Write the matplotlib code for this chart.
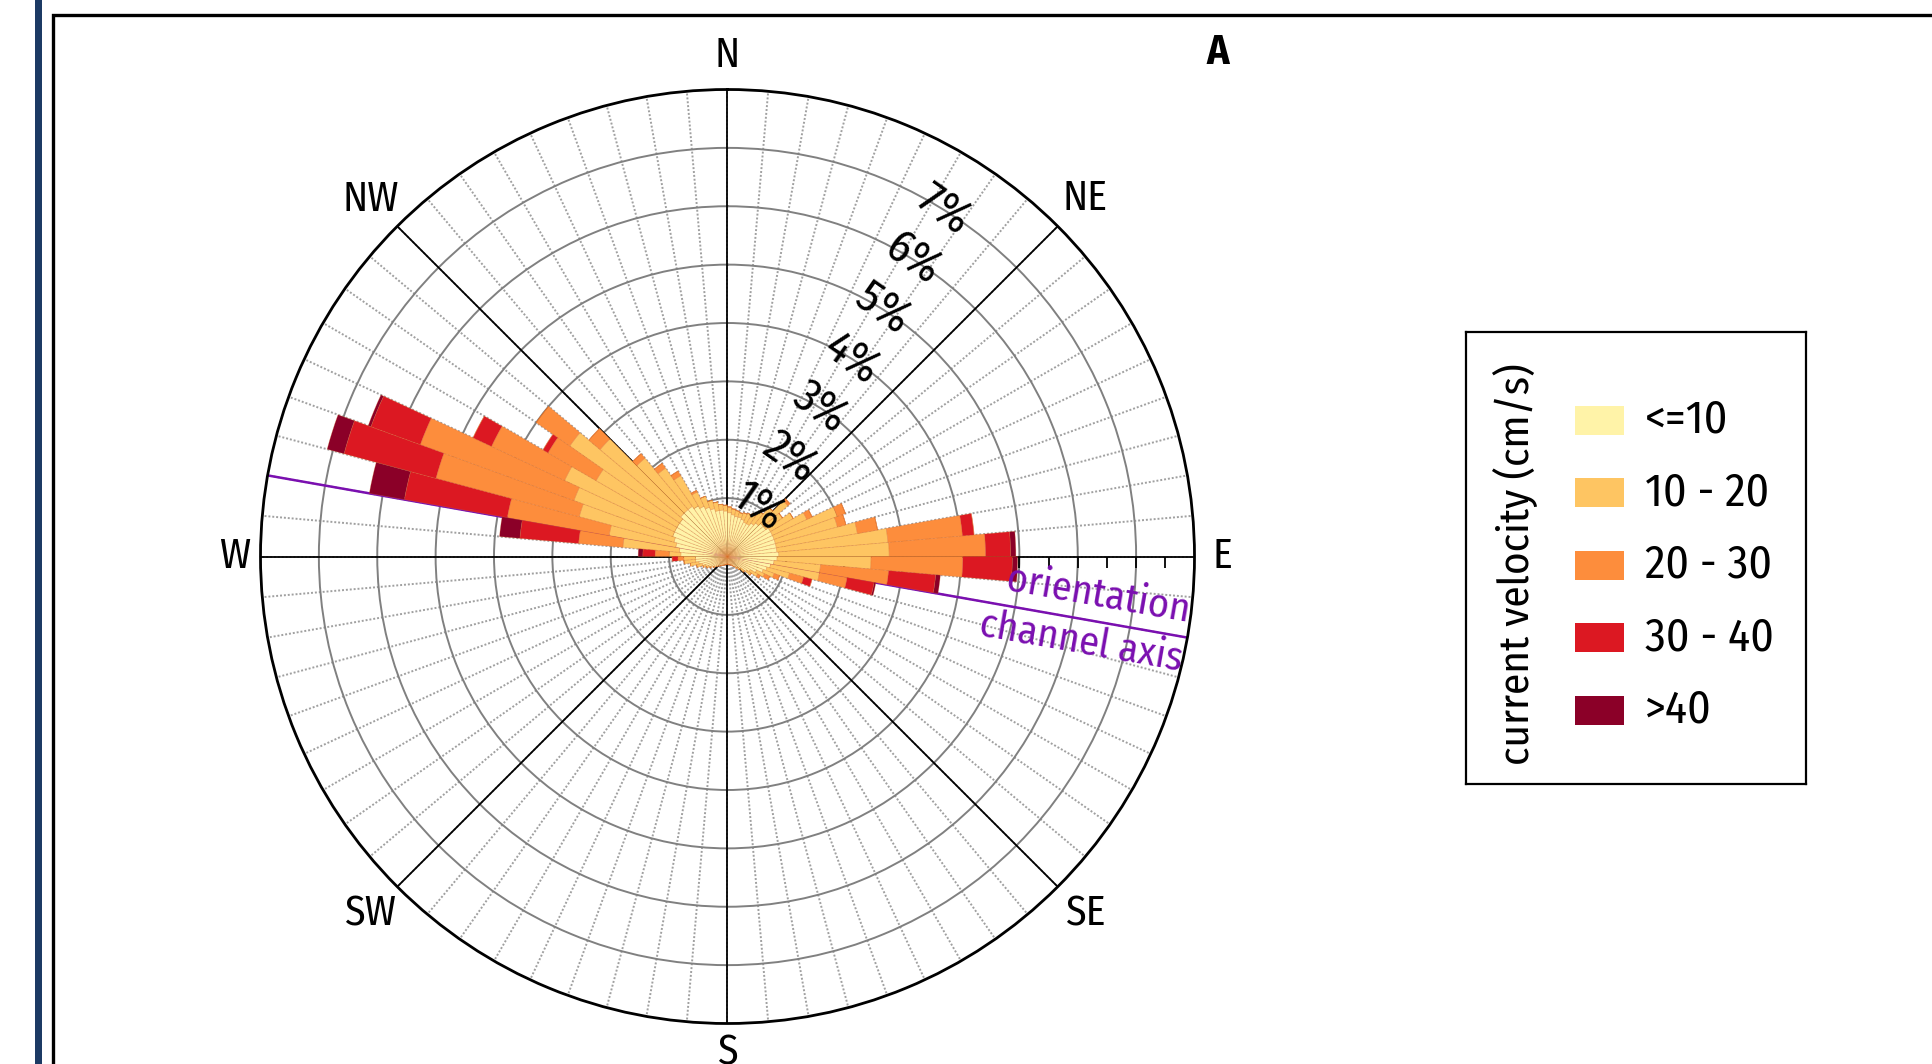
import numpy as np
import matplotlib
matplotlib.use('Agg')
import matplotlib.pyplot as plt
from matplotlib import font_manager
from matplotlib.patches import Rectangle

# ── Font: prefer a condensed sans if one is installed ───────────────────────
_entries = font_manager.fontManager.ttflist
_names = {f.name for f in _entries}
FONT, STRETCH = 'DejaVu Sans', 'normal'
for cand in ['Fira Sans Condensed', 'Roboto Condensed', 'Open Sans Condensed',
             'Liberation Sans Narrow']:
    if cand in _names:
        FONT = cand
        break
else:
    if any(f.name == 'DejaVu Sans' and f.stretch == 'condensed' for f in _entries):
        STRETCH = 'condensed'
plt.rcParams['font.family'] = [FONT, 'DejaVu Sans']
plt.rcParams['font.stretch'] = STRETCH

# ── Data: share of records (%) per 5° direction sector and velocity class ───
SECTOR_START = np.arange(0, 360, 5)          # compass degrees, bin = [a, a+5)
CLASS_LABELS = ['<=10', '10 - 20', '20 - 30', '30 - 40', '>40']
CLASS_COLORS = ['#fff3a8', '#fec562', '#fd8d3c', '#dc1822', '#8b0028']

v_le10 = [0.75, 0.72, 0.70, 0.70, 0.68, 0.65, 0.65, 0.70, 0.75, 0.80,
          0.80, 0.85, 0.85, 0.85, 0.85, 0.85, 0.85, 0.88, 0.85, 0.80,
          0.75, 0.70, 0.65, 0.55, 0.45, 0.40, 0.30, 0.25, 0.22, 0.20,
          0.18, 0.16, 0.15, 0.14, 0.14, 0.13, 0.13, 0.14, 0.14, 0.15,
          0.16, 0.17, 0.18, 0.20, 0.22, 0.25, 0.28, 0.32, 0.36, 0.40,
          0.45, 0.50, 0.55, 0.55, 0.80, 0.83, 0.90, 0.95, 1.00, 1.00,
          1.00, 1.00, 1.05, 1.05, 1.05, 1.00, 0.95, 0.90, 0.85, 0.80,
          0.80, 0.78]
v_10_20 = [0.10, 0.10, 0.10, 0.08, 0.12, 0.17, 0.20, 0.25, 0.35, 0.55,
           0.35, 0.45, 0.65, 1.15, 1.10, 1.41, 1.91, 1.89, 1.61, 0.80,
           0.85, 0.40, 0.20, 0.15, 0.15, 0.10, 0.08, 0.05, 0.03, 0.00,
           0.00, 0.00, 0.00, 0.00, 0.00, 0.00, 0.00, 0.00, 0.00, 0.00,
           0.00, 0.00, 0.00, 0.00, 0.00, 0.00, 0.02, 0.03, 0.04, 0.05,
           0.10, 0.15, 0.20, 0.20, 0.20, 0.97, 1.16, 1.68, 1.80, 2.08,
           1.60, 2.30, 1.80, 1.15, 0.80, 0.60, 0.27, 0.20, 0.15, 0.15,
           0.10, 0.10]
v_20_30 = [0.00, 0.00, 0.00, 0.00, 0.00, 0.00, 0.00, 0.00, 0.00, 0.05,
           0.00, 0.00, 0.10, 0.15, 0.15, 0.35, 1.28, 1.65, 1.57, 1.17,
           0.48, 0.25, 0.10, 0.10, 0.05, 0.00, 0.00, 0.00, 0.00, 0.00,
           0.00, 0.00, 0.00, 0.00, 0.00, 0.00, 0.00, 0.00, 0.00, 0.00,
           0.00, 0.00, 0.00, 0.00, 0.00, 0.00, 0.00, 0.00, 0.00, 0.00,
           0.00, 0.00, 0.00, 0.10, 0.24, 0.76, 1.77, 2.54, 2.80, 1.38,
           0.95, 0.70, 0.25, 0.10, 0.10, 0.09, 0.03, 0.00, 0.00, 0.00,
           0.00, 0.00]
v_30_40 = [0.00] * 16 + [0.20, 0.43, 0.85, 0.81, 0.47, 0.15] + [0.00] * 31 + \
          [0.10, 0.21, 1.01, 1.79, 1.63, 0.90, 0.35, 0.10] + [0.00] * 11
v_gt40 = [0.00] * 17 + [0.09, 0.09, 0.08, 0.03] + [0.00] * 33 + \
         [0.08, 0.35, 0.61, 0.30, 0.05] + [0.00] * 13
CLASS_VALUES = [v_le10, v_10_20, v_20_30, v_30_40, v_gt40]

R_MAX = 8
R_TICKS = [1, 2, 3, 4, 5, 6, 7]
COMPASS = ['N', 'NE', 'E', 'SE', 'S', 'SW', 'W', 'NW']
COMPASS_R = [8.58, 8.66, 8.47, 8.66, 8.50, 8.65, 8.45, 8.64]
CHANNEL_AXIS_DEG = 100

# ── Figure ──────────────────────────────────────────────────────────────────
W, H = 1933, 1064
fig = plt.figure(figsize=(W / 100, H / 100), dpi=100)
fig.patch.set_facecolor('white')

# panel decoration: navy rule on the left and black frame
fig.add_artist(Rectangle((35 / W, 0), 7 / W, 1, transform=fig.transFigure,
                         color='#1c3a64', lw=0))
fig.add_artist(Rectangle((53.5 / W, -0.1), 1.2, 1.1 - 14.5 / H,
                         transform=fig.transFigure, fill=False,
                         ec='black', lw=2.4))

ax = fig.add_axes([260.5 / W, 1 - 1023.5 / H, 934 / W, 934 / H],
                  projection='polar')
ax.set_theta_zero_location('N')
ax.set_theta_direction(-1)
ax.set_ylim(0, R_MAX)
ax.set_axisbelow(True)

ax.set_xticks(np.deg2rad(SECTOR_START))
ax.set_xticklabels([])
ax.set_yticks(R_TICKS)
ax.set_yticklabels([])
ax.xaxis.grid(True, color='#a0a0a0', ls=(0, (1.0, 1.0)), lw=1.4)
ax.yaxis.grid(True, color='#808080', ls='-', lw=1.4)
ax.tick_params(axis='x', direction='in', length=9, width=1.2, color='black')
ax.spines['polar'].set_linewidth(2)
ax.spines['polar'].set_color('black')

# compass lines every 45°
for a in range(0, 360, 45):
    ax.plot([np.deg2rad(a)] * 2, [0, R_MAX], color='black', lw=1.3, zorder=1.5)

# half-percent ticks along the E radius
ax.plot(np.full(15, np.deg2rad(90)), np.arange(0.5, 8, 0.5), ls='none',
        marker=3, ms=8, mew=1.3, color='black', zorder=1.6)

# channel axis
for a in (CHANNEL_AXIS_DEG, CHANNEL_AXIS_DEG + 180):
    ax.plot([np.deg2rad(a)] * 2, [0, R_MAX], color='#7a0fb0', lw=1.8, zorder=2)

# stacked bars
theta = np.deg2rad(SECTOR_START)
width = np.deg2rad(5)
bottom = np.zeros(len(SECTOR_START))
for vals, col in zip(CLASS_VALUES, CLASS_COLORS):
    vals = np.asarray(vals)
    ax.bar(theta, vals, width=width, bottom=bottom, align='edge', color=col,
           edgecolor=(0.85, 0.42, 0.15, 0.35), lw=0.5, zorder=3)
    bottom = bottom + vals

# radial labels
for r in R_TICKS:
    ax.text(np.deg2rad(32), r, f'{r}%', rotation=-35, ha='center', va='center',
            fontsize=33, zorder=6)

# compass labels
for i, (lab, r) in enumerate(zip(COMPASS, COMPASS_R)):
    ax.text(np.deg2rad(45 * i), r, lab, ha='center', va='center', fontsize=30,
            clip_on=False)

fig.text(1098 / W, 1 - 595 / H, 'orientation', color='#7a0fb0', fontsize=29,
         rotation=-10, ha='center', va='center')
fig.text(1081 / W, 1 - 642 / H, 'channel axis', color='#7a0fb0', fontsize=29,
         rotation=-10, ha='center', va='center')

fig.text(1218 / W, 1 - 53 / H, 'A', fontsize=30, fontweight='bold',
         ha='center', va='center')

# ── Legend box ──────────────────────────────────────────────────────────────
lg = fig.add_axes([1466 / W, 1 - 784 / H, 340 / W, 452 / H])
lg.set_xlim(0, 340)
lg.set_ylim(452, 0)
lg.set_xticks([])
lg.set_yticks([])
for s in lg.spines.values():
    s.set_linewidth(1.6)
for i, (lab, col) in enumerate(zip(CLASS_LABELS, CLASS_COLORS)):
    y = 88 + i * 72.5
    lg.add_patch(Rectangle((109, y - 14.5), 49, 29, color=col, lw=0))
    lg.text(179, y, lab, ha='left', va='center', fontsize=33)
lg.text(49, 232, 'current velocity (cm/s)', rotation=90, ha='center',
        va='center', fontsize=31)

fig.savefig('out.png', dpi=100)
